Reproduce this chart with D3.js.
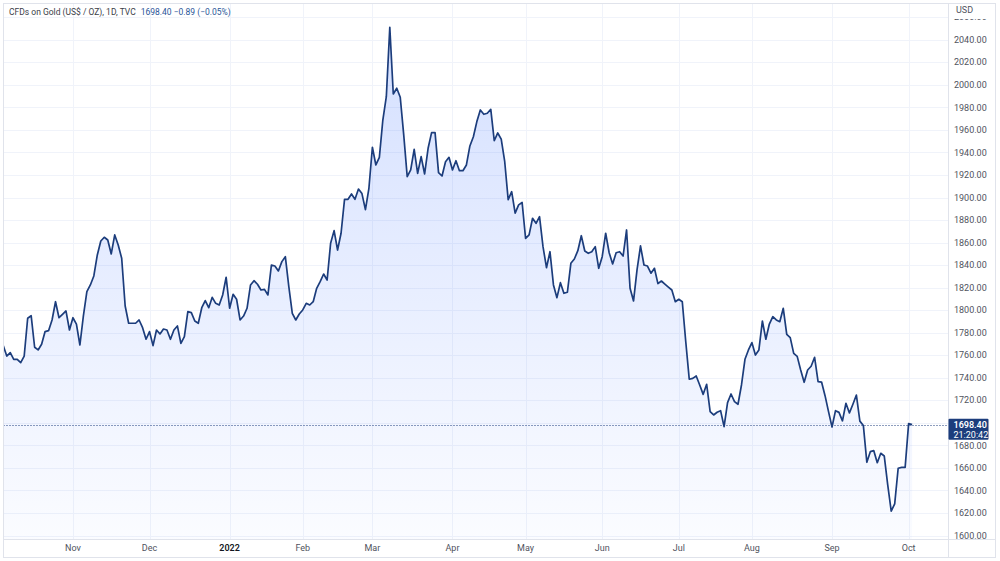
<!DOCTYPE html>
<html>
<head>
<meta charset="utf-8">
<script src="https://cdn.jsdelivr.net/npm/d3@7"></script>
<style>
  body { margin: 0; background: #fff; }
  svg text { font-family: Roboto, "Noto Sans", sans-serif; }
</style>
</head>
<body>
<div id="chart"></div>
<script>
const width = 1000;
const height = 561;

// daily closes, one per weekday from 4 Oct 2021 to 4 Oct 2022
const closes = [
  1768.5, 1759.3, 1762.3, 1756.4, 1756.4, 1753.4, 1759.3, 1792.8, 1795.1, 1767.1,
  1764.7, 1769.7, 1781.0, 1781.8, 1791.3, 1807.5, 1793.3, 1796.3, 1799.3, 1782.4,
  1793.3, 1787.7, 1769.1, 1795.0, 1816.4, 1822.4, 1830.4, 1849.0, 1861.4, 1864.7,
  1862.3, 1849.9, 1866.8, 1857.9, 1846.1, 1803.7, 1788.4, 1788.4, 1788.4, 1791.3,
  1784.5, 1774.2, 1781.0, 1768.5, 1782.4, 1778.9, 1783.3, 1782.4, 1774.2, 1782.4,
  1786.0, 1770.6, 1776.5, 1798.7, 1797.8, 1790.4, 1788.4, 1802.2, 1808.5, 1802.2,
  1811.4, 1806.1, 1804.6, 1813.5, 1829.2, 1801.7, 1814.1, 1809.7, 1791.3, 1794.8,
  1801.7, 1822.4, 1826.2, 1823.0, 1817.9, 1818.5, 1813.5, 1840.1, 1839.2, 1834.8,
  1843.1, 1847.5, 1820.9, 1797.2, 1791.3, 1796.6, 1800.2, 1806.1, 1804.6, 1807.5,
  1819.4, 1825.3, 1832.1, 1826.8, 1859.4, 1870.6, 1853.4, 1868.3, 1898.4, 1898.4,
  1903.2, 1898.4, 1907.5, 1903.5, 1889.3, 1908.2, 1944.6, 1928.9, 1935.7, 1968.8,
  1989.5, 2051.1, 1991.9, 1997.0, 1989.0, 1955.6, 1918.5, 1924.5, 1942.8, 1921.5,
  1936.3, 1920.9, 1943.7, 1957.6, 1957.6, 1922.1, 1919.1, 1931.8, 1935.7, 1924.5,
  1932.7, 1923.8, 1923.8, 1928.9, 1945.8, 1954.0, 1967.4, 1977.7, 1973.9, 1974.8,
  1978.3, 1950.4, 1957.3, 1951.8, 1932.0, 1898.0, 1905.2, 1886.2, 1893.5, 1895.6,
  1863.8, 1866.8, 1881.6, 1877.1, 1883.0, 1856.4, 1837.7, 1851.9, 1822.4, 1811.1,
  1824.4, 1815.0, 1815.9, 1841.6, 1845.4, 1852.8, 1866.1, 1852.5, 1850.5, 1851.9,
  1856.4, 1837.2, 1847.5, 1868.3, 1851.0, 1841.0, 1851.0, 1851.9, 1848.1, 1871.2,
  1819.4, 1808.2, 1835.7, 1857.0, 1840.1, 1839.2, 1832.8, 1837.2, 1823.6, 1825.9,
  1823.2, 1820.5, 1817.9, 1807.5, 1809.7, 1807.5, 1772.0, 1738.7, 1739.5, 1741.6,
  1733.6, 1725.3, 1734.2, 1709.9, 1707.0, 1709.4, 1710.8, 1696.6, 1717.9, 1725.6,
  1718.8, 1716.5, 1733.6, 1756.4, 1764.7, 1771.2, 1760.2, 1764.7, 1790.4, 1774.2,
  1787.7, 1794.2, 1791.3, 1789.8, 1801.7, 1778.6, 1775.6, 1761.7, 1759.0, 1746.9,
  1736.0, 1746.9, 1750.2, 1758.2, 1736.5, 1736.2, 1724.1, 1710.0, 1696.3, 1710.8,
  1709.3, 1701.8, 1717.4, 1708.8, 1716.5, 1724.7, 1701.5, 1697.7, 1665.0, 1674.4,
  1675.3, 1664.6, 1673.0, 1670.6, 1645.0, 1621.7, 1628.0, 1659.7, 1660.5, 1660.5,
  1699.3, 1698.4
];

const priceTicks = d3.range(1600, 2061, 20);
const lastPrice = 1698.40;
const countdown = "21:20:42";
const titleText = "CFDs on Gold (US$ / OZ), 1D, TVC";
const quoteText = "1698.40  \u22120.89 (\u22120.05%)";
const currency = "USD";

// trading days (weekdays only)
const days = d3.timeDay
  .range(new Date(2021, 9, 4), new Date(2022, 9, 5))
  .filter(d => d.getDay() % 6 !== 0);

const data = closes.map((c, i) => ({ i, date: days[i], close: c }));

// first bar of each month
const monthStarts = data.filter((d, i) => i > 0 && d.date.getMonth() !== data[i - 1].date.getMonth());

const pane = { left: 3.5, top: 3.5, right: 948.5, bottom: 539.5 };
const frame = { right: 995.5, bottom: 557.5 };

const svg = d3
  .select("#chart")
  .append("svg")
  .attr("width", width)
  .attr("height", height)
  .attr("viewBox", [0, 0, width, height]);

const x = d3.scaleLinear().domain([0, closes.length - 1]).range([3.3, 912.1]);
const y = d3.scaleLinear().domain([1600, 2040]).range([535.5, 39.8]);

const defs = svg.append("defs");
defs.append("clipPath").attr("id", "pane-clip")
  .append("rect")
  .attr("x", pane.left).attr("y", pane.top)
  .attr("width", pane.right - pane.left).attr("height", pane.bottom - pane.top);
defs.append("clipPath").attr("id", "axis-clip")
  .append("rect")
  .attr("x", pane.right).attr("y", 19)
  .attr("width", frame.right - pane.right).attr("height", pane.bottom - 19);

const grad = defs.append("linearGradient")
  .attr("id", "area-fill")
  .attr("gradientUnits", "userSpaceOnUse")
  .attr("x1", 0).attr("x2", 0)
  .attr("y1", y(d3.max(closes))).attr("y2", pane.bottom);
grad.append("stop").attr("offset", 0).attr("stop-color", "rgb(41,98,255)").attr("stop-opacity", 0.2);
grad.append("stop").attr("offset", 1).attr("stop-color", "rgb(41,98,255)").attr("stop-opacity", 0.02);

// grid
const grid = svg.append("g").attr("clip-path", "url(#pane-clip)");
grid.selectAll(".hgrid")
  .data(priceTicks.concat([2080]))
  .join("line")
  .attr("x1", pane.left).attr("x2", pane.right)
  .attr("y1", d => Math.round(y(d)) + 0.5).attr("y2", d => Math.round(y(d)) + 0.5)
  .attr("stroke", "#f0f3fa");
grid.selectAll(".vgrid")
  .data(monthStarts)
  .join("line")
  .attr("x1", d => Math.round(x(d.i)) + 0.5).attr("x2", d => Math.round(x(d.i)) + 0.5)
  .attr("y1", pane.top).attr("y2", pane.bottom)
  .attr("stroke", "#f0f3fa");

// series
const plot = svg.append("g").attr("clip-path", "url(#pane-clip)");

const area = d3.area()
  .x(d => x(d.i))
  .y0(pane.bottom)
  .y1(d => y(d.close));

const line = d3.line()
  .x(d => x(d.i))
  .y(d => y(d.close));

plot.append("path")
  .datum(data)
  .attr("d", area)
  .attr("fill", "url(#area-fill)");

plot.append("line")
  .attr("x1", pane.left).attr("x2", pane.right)
  .attr("y1", Math.round(y(lastPrice)) + 0.5).attr("y2", Math.round(y(lastPrice)) + 0.5)
  .attr("stroke", "#1c3d7c")
  .attr("stroke-width", 1)
  .attr("stroke-dasharray", "1,2");

plot.append("path")
  .datum(data)
  .attr("d", line)
  .attr("fill", "none")
  .attr("stroke", "#1c3d7c")
  .attr("stroke-width", 1.7)
  .attr("stroke-linejoin", "round");

// frame and separators
svg.append("rect")
  .attr("x", 3.5).attr("y", 3.5)
  .attr("width", frame.right - 3.5).attr("height", frame.bottom - 3.5)
  .attr("fill", "none").attr("stroke", "#e0e3eb");
svg.append("line")
  .attr("x1", pane.right).attr("x2", pane.right)
  .attr("y1", 3.5).attr("y2", frame.bottom)
  .attr("stroke", "#e0e3eb");
svg.append("line")
  .attr("x1", 3.5).attr("x2", frame.right)
  .attr("y1", pane.bottom).attr("y2", pane.bottom)
  .attr("stroke", "#e0e3eb");

// price axis
const yAxis = svg.append("g").attr("clip-path", "url(#axis-clip)");
yAxis.selectAll("text")
  .data(priceTicks)
  .join("text")
  .attr("x", 954)
  .attr("y", d => y(d))
  .attr("dy", "0.35em")
  .attr("font-size", 9)
  .attr("fill", "#50535e")
  .text(d => d3.format(".2f")(d));

svg.append("text")
  .attr("x", 956).attr("y", 10)
  .attr("dy", "0.35em")
  .attr("font-size", 9)
  .attr("fill", "#50535e")
  .text(currency);

// last price label
const tag = svg.append("g").attr("transform", `translate(${pane.right},${y(lastPrice)})`);
tag.append("rect")
  .attr("x", 0).attr("y", -6)
  .attr("width", 40).attr("height", 21)
  .attr("rx", 1)
  .attr("fill", "#1c3d7c");
tag.append("text")
  .attr("x", 5).attr("y", 0)
  .attr("dy", "0.35em")
  .attr("font-size", 9)
  .attr("font-weight", 600)
  .attr("fill", "#fff")
  .text(d3.format(".2f")(lastPrice));
tag.append("text")
  .attr("x", 5).attr("y", 10)
  .attr("dy", "0.35em")
  .attr("font-size", 9)
  .attr("fill", "#fff")
  .text(countdown);

// time axis
svg.selectAll(".month")
  .data(monthStarts)
  .join("text")
  .attr("x", d => x(d.i))
  .attr("y", 548)
  .attr("dy", "0.35em")
  .attr("text-anchor", "middle")
  .attr("font-size", 9)
  .attr("font-weight", d => d.date.getMonth() === 0 ? 600 : 400)
  .attr("fill", d => d.date.getMonth() === 0 ? "#131722" : "#50535e")
  .text(d => d.date.getMonth() === 0 ? d3.timeFormat("%Y")(d.date) : d3.timeFormat("%b")(d.date));

// legend
const legend = svg.append("text")
  .attr("x", 9).attr("y", 12)
  .attr("dy", "0.35em")
  .attr("font-size", 8.5);
legend.append("tspan").attr("fill", "#3b3e48").text(titleText);
legend.append("tspan").attr("dx", 5).attr("fill", "#2a5599").text(quoteText);
</script>
</body>
</html>
